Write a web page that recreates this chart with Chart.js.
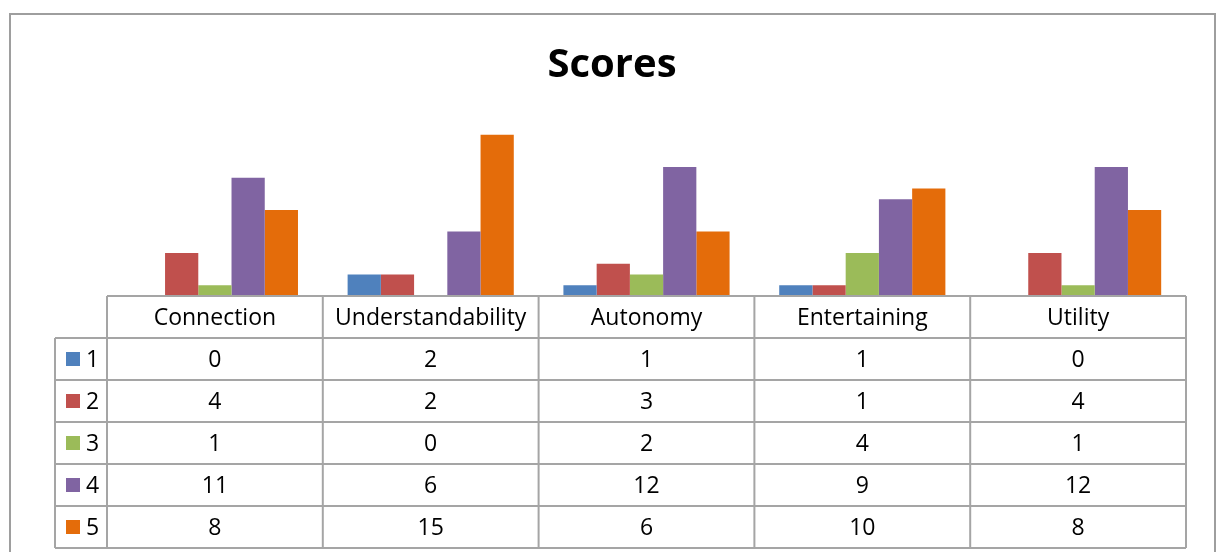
<!DOCTYPE html>
<html><head><meta charset="utf-8">
<script src="https://cdn.jsdelivr.net/npm/chart.js@4/dist/chart.umd.min.js"></script>
<style>html,body{margin:0;padding:0;background:#fff}#wrap{width:1217px;height:552px}</style>
</head><body><div id="wrap"><canvas id="c" width="1217" height="552"></canvas></div>
<script>
const categories = ["Connection", "Understandability", "Autonomy", "Entertaining", "Utility"];
const seriesNames = ["1", "2", "3", "4", "5"];
const score1 = [0, 2, 1, 1, 0];
const score2 = [4, 2, 3, 1, 4];
const score3 = [1, 0, 2, 4, 1];
const score4 = [11, 6, 12, 9, 12];
const score5 = [8, 15, 6, 10, 8];
const seriesValues = [score1, score2, score3, score4, score5];
const colors = ["#4F81BD", "#C0504D", "#9BBB59", "#8064A2", "#E46C0A"];
const titleText = "Scores";
const yMax = 16;

const FONT = "'Open Sans', 'Liberation Sans', sans-serif";
const GRID = "#a5a5a5";
const ROW_H = 42;
const LABEL_COL_LEFT = 55;

const tablePlugin = {
  id: 'dataTable',
  beforeDraw(chart) {
    const ctx = chart.ctx;
    ctx.save();
    ctx.strokeStyle = "#9e9e9e";
    ctx.lineWidth = 2;
    ctx.strokeRect(10, 14, 1205, 560);
    ctx.fillStyle = "#000";
    ctx.textAlign = "center";
    ctx.textBaseline = "middle";
    ctx.font = "bold 40px " + FONT;
    ctx.fillText(titleText, 612, 66);
    ctx.restore();
  },
  afterDraw(chart) {
    const ctx = chart.ctx;
    const xs = chart.scales.x;
    const area = chart.chartArea;
    const n = categories.length;
    const bounds = [area.left];
    for (let i = 0; i < n - 1; i++) {
      bounds.push((xs.getPixelForValue(i) + xs.getPixelForValue(i + 1)) / 2);
    }
    bounds.push(area.right);
    const top = area.bottom;
    const rowsTop = top + ROW_H;
    const bottom = rowsTop + ROW_H * seriesNames.length;
    ctx.save();
    ctx.strokeStyle = GRID;
    ctx.lineWidth = 2;
    ctx.beginPath();
    ctx.moveTo(area.left, top); ctx.lineTo(area.right, top);
    for (let r = 0; r <= seriesNames.length; r++) {
      const y = rowsTop + r * ROW_H;
      ctx.moveTo(LABEL_COL_LEFT, y); ctx.lineTo(area.right, y);
    }
    bounds.forEach(x => { ctx.moveTo(x, top); ctx.lineTo(x, bottom); });
    ctx.moveTo(LABEL_COL_LEFT, rowsTop); ctx.lineTo(LABEL_COL_LEFT, bottom);
    ctx.stroke();

    ctx.fillStyle = "#000";
    ctx.textAlign = "center";
    ctx.textBaseline = "middle";
    ctx.font = "23px " + FONT;
    for (let i = 0; i < n; i++) {
      const cx = (bounds[i] + bounds[i + 1]) / 2;
      ctx.fillText(categories[i], cx, top + ROW_H / 2 + 1);
      for (let r = 0; r < seriesNames.length; r++) {
        ctx.fillText(String(seriesValues[r][i]), cx, rowsTop + r * ROW_H + ROW_H / 2 + 1);
      }
    }
    for (let r = 0; r < seriesNames.length; r++) {
      const cy = rowsTop + r * ROW_H + ROW_H / 2;
      ctx.fillStyle = colors[r];
      ctx.fillRect(66, cy - 7, 14, 14);
      ctx.fillStyle = "#000";
      ctx.textAlign = "left";
      ctx.fillText(seriesNames[r], 86, cy + 1);
    }
    ctx.restore();
  }
};

new Chart(document.getElementById('c'), {
  type: 'bar',
  data: {
    labels: categories,
    datasets: seriesNames.map((name, i) => ({
      label: name,
      data: seriesValues[i],
      backgroundColor: colors[i],
      borderWidth: 0,
      categoryPercentage: 0.77,
      barPercentage: 1.0
    }))
  },
  options: {
    responsive: false,
    animation: false,
    layout: { padding: { left: 107, right: 31, top: 124, bottom: 256 } },
    scales: {
      x: { display: false },
      y: { display: false, min: 0, max: yMax }
    },
    plugins: {
      legend: { display: false },
      tooltip: { enabled: false },
      title: { display: false }
    }
  },
  plugins: [tablePlugin]
});
</script>
</body></html>
